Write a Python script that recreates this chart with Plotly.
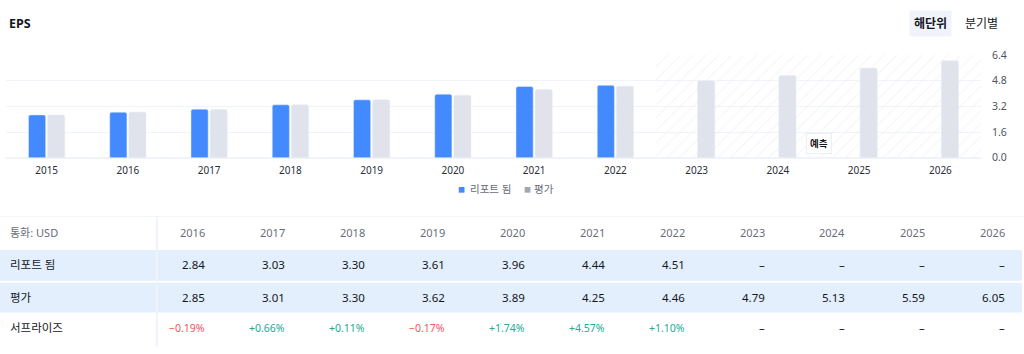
import plotly.graph_objects as go

# ---------------- data ----------------
years = [2015, 2016, 2017, 2018, 2019, 2020, 2021, 2022, 2023, 2024, 2025, 2026]
reported = [2.67, 2.84, 3.03, 3.30, 3.61, 3.96, 4.44, 4.51, None, None, None, None]
estimate = [2.66, 2.85, 3.01, 3.30, 3.62, 3.89, 4.25, 4.46, 4.79, 5.13, 5.59, 6.05]
surprise = [None, -0.19, 0.66, 0.11, -0.17, 1.74, 4.57, 1.10, None, None, None, None]
table_years = years[1:]
y_ticks = [0.0, 1.6, 3.2, 4.8, 6.4]
series_names = ["리포트 됨", "평가"]

BLUE = "#448aff"
GRAY_BAR = "#e0e3eb"
TEXT = "#131722"
MUTED = "#6a6d78"
GRID = "#f0f3fa"
ROW_BG = "#e3effd"
RED = "#f7525f"
GREEN = "#22ab94"
FONT = "Noto Sans, Noto Sans CJK KR, sans-serif"

W, H = 1024, 354


def px_x(p):
    return p / W


def px_y(p):
    return 1 - p / H


n_actual = sum(v is not None for v in reported)
xs = list(range(len(years)))

fig = go.Figure()

# forecast hatch background (drawn as one wide patterned bar spanning the forecast years)
n_fc = len(years) - n_actual
fig.add_trace(go.Bar(
    x=[(n_actual - 0.5 + len(years) - 0.5) / 2], y=[y_ticks[-1]], base=[y_ticks[0]],
    width=[n_fc], offset=[-n_fc / 2],
    marker=dict(color="rgba(0,0,0,0)", line=dict(width=0),
                pattern=dict(shape="/", fgcolor="#e6eaf2", bgcolor="rgba(0,0,0,0)",
                             size=9, solidity=0.12)),
    hoverinfo="skip", showlegend=False,
))

fig.add_trace(go.Bar(x=xs, y=reported, name=series_names[0], marker=dict(color=BLUE, cornerradius=2),
                     showlegend=False))
fig.add_trace(go.Bar(x=xs, y=estimate, name=series_names[1], marker=dict(color=GRAY_BAR, cornerradius=2),
                     showlegend=False))

fig.update_layout(
    width=W, height=H,
    margin=dict(l=0, r=0, t=0, b=0),
    paper_bgcolor="white", plot_bgcolor="white",
    font=dict(family=FONT, color=TEXT, size=11),
    barmode="group", bargap=0.53, bargroupgap=0.1,
    xaxis=dict(
        domain=[px_x(6), px_x(981)],
        range=[-0.5, len(years) - 0.5],
        tickmode="array", tickvals=xs, ticktext=[str(y) for y in years],
        showgrid=False, zeroline=False, showline=False, ticks="",
        tickfont=dict(size=10, color="#2a2e39"),
        ticklabelstandoff=5,
        fixedrange=True,
    ),
    yaxis=dict(
        domain=[px_y(157), px_y(50)],
        range=[y_ticks[0], y_ticks[-1]],
        side="right", tickmode="array", tickvals=y_ticks,
        ticktext=[f"{v:.1f}" for v in y_ticks],
        showgrid=True, gridcolor=GRID, gridwidth=1,
        zeroline=True, zerolinecolor=GRID, showline=False, ticks="",
        tickfont=dict(size=10.5, color="#50535e"),
        ticklabelstandoff=10,
        fixedrange=True,
    ),
    showlegend=False,
)

ann = []
shapes = []

# title and toggle buttons
ann.append(dict(x=px_x(7), y=px_y(17), xref="paper", yref="paper", xanchor="left", yanchor="middle",
                text="<b>EPS</b>", showarrow=False, font=dict(size=12.5, color=TEXT)))
ann.append(dict(x=px_x(930), y=px_y(17), xref="paper", yref="paper", xanchor="center", yanchor="middle",
                text="<b>해단위</b>", showarrow=False, font=dict(size=12, color=TEXT),
                bgcolor="#f0f3fa", borderpad=4))
ann.append(dict(x=px_x(981), y=px_y(17), xref="paper", yref="paper", xanchor="center", yanchor="middle",
                text="분기별", showarrow=False, font=dict(size=12, color=TEXT)))

# forecast label
ann.append(dict(x=(n_actual + 1.5), y=px_y(142), xref="x", yref="paper", xanchor="center", yanchor="middle",
                text="<b>예측</b>", showarrow=False, font=dict(size=9.5, color=TEXT),
                bgcolor="white", bordercolor="#eceff5", borderwidth=1, borderpad=3))

# legend
legend_items = [(series_names[0], BLUE, 461.5, 469), (series_names[1], "#a3a6af", 527.5, 533)]
for name, col, sq_x, tx_x in legend_items:
    ann.append(dict(x=px_x(sq_x), y=px_y(190), xref="paper", yref="paper", xanchor="center", yanchor="middle",
                    text="■", showarrow=False, font=dict(size=7, color=col), borderpad=0))
    ann.append(dict(x=px_x(tx_x), y=px_y(190), xref="paper", yref="paper", xanchor="left", yanchor="middle",
                    text=name, showarrow=False, font=dict(size=10.5, color=MUTED), borderpad=0))

# ---------------- table ----------------
shapes.append(dict(type="line", xref="paper", yref="paper", x0=0, x1=1, y0=px_y(218), y1=px_y(218),
                   line=dict(color=GRID, width=1)))
for top, bot in [(253, 285), (287, 318)]:
    shapes.append(dict(type="rect", xref="paper", yref="paper", x0=0, x1=px_x(1022),
                       y0=px_y(bot), y1=px_y(top), fillcolor=ROW_BG, line=dict(width=0), layer="below"))
shapes.append(dict(type="line", xref="paper", yref="paper", x0=px_x(157), x1=px_x(157),
                   y0=0, y1=px_y(218), line=dict(color=GRID, width=2)))

row_y = {"head": 235, "rep": 268, "est": 302, "sur": 334}
labels = [("head", "통화: USD", MUTED), ("rep", series_names[0], TEXT), ("est", series_names[1], TEXT),
          ("sur", "서프라이즈", TEXT)]
for key, txt, col in labels:
    ann.append(dict(x=px_x(8), y=px_y(row_y[key]), xref="paper", yref="paper", xanchor="left",
                    yanchor="middle", text=txt, showarrow=False,
                    font=dict(size=11.5 if key != "head" else 11, color=col)))

col_right0, col_step = 207, 80
for i, yr in enumerate(table_years):
    idx = years.index(yr)
    xr = px_x(col_right0 + col_step * i)
    ann.append(dict(x=xr, y=px_y(row_y["head"]), xref="paper", yref="paper", xanchor="right",
                    yanchor="middle", text=str(yr), showarrow=False, font=dict(size=11, color=MUTED)))
    r = reported[idx]
    ann.append(dict(x=xr, y=px_y(row_y["rep"]), xref="paper", yref="paper", xanchor="right",
                    yanchor="middle", text=f"{r:.2f}" if r is not None else "–", showarrow=False,
                    font=dict(size=11.5, color=TEXT)))
    e = estimate[idx]
    ann.append(dict(x=xr, y=px_y(row_y["est"]), xref="paper", yref="paper", xanchor="right",
                    yanchor="middle", text=f"{e:.2f}" if e is not None else "–", showarrow=False,
                    font=dict(size=11.5, color=TEXT)))
    s = surprise[idx]
    if s is None:
        stxt, scol, ssize = "–", TEXT, 11.5
    elif s < 0:
        stxt, scol, ssize = f"−{abs(s):.2f}%", RED, 10.5
    else:
        stxt, scol, ssize = f"+{s:.2f}%", GREEN, 10.5
    ann.append(dict(x=xr, y=px_y(row_y["sur"]), xref="paper", yref="paper", xanchor="right",
                    yanchor="middle", text=stxt, showarrow=False, font=dict(size=ssize, color=scol)))

fig.update_layout(annotations=ann, shapes=shapes)
fig.write_html("out.html")
